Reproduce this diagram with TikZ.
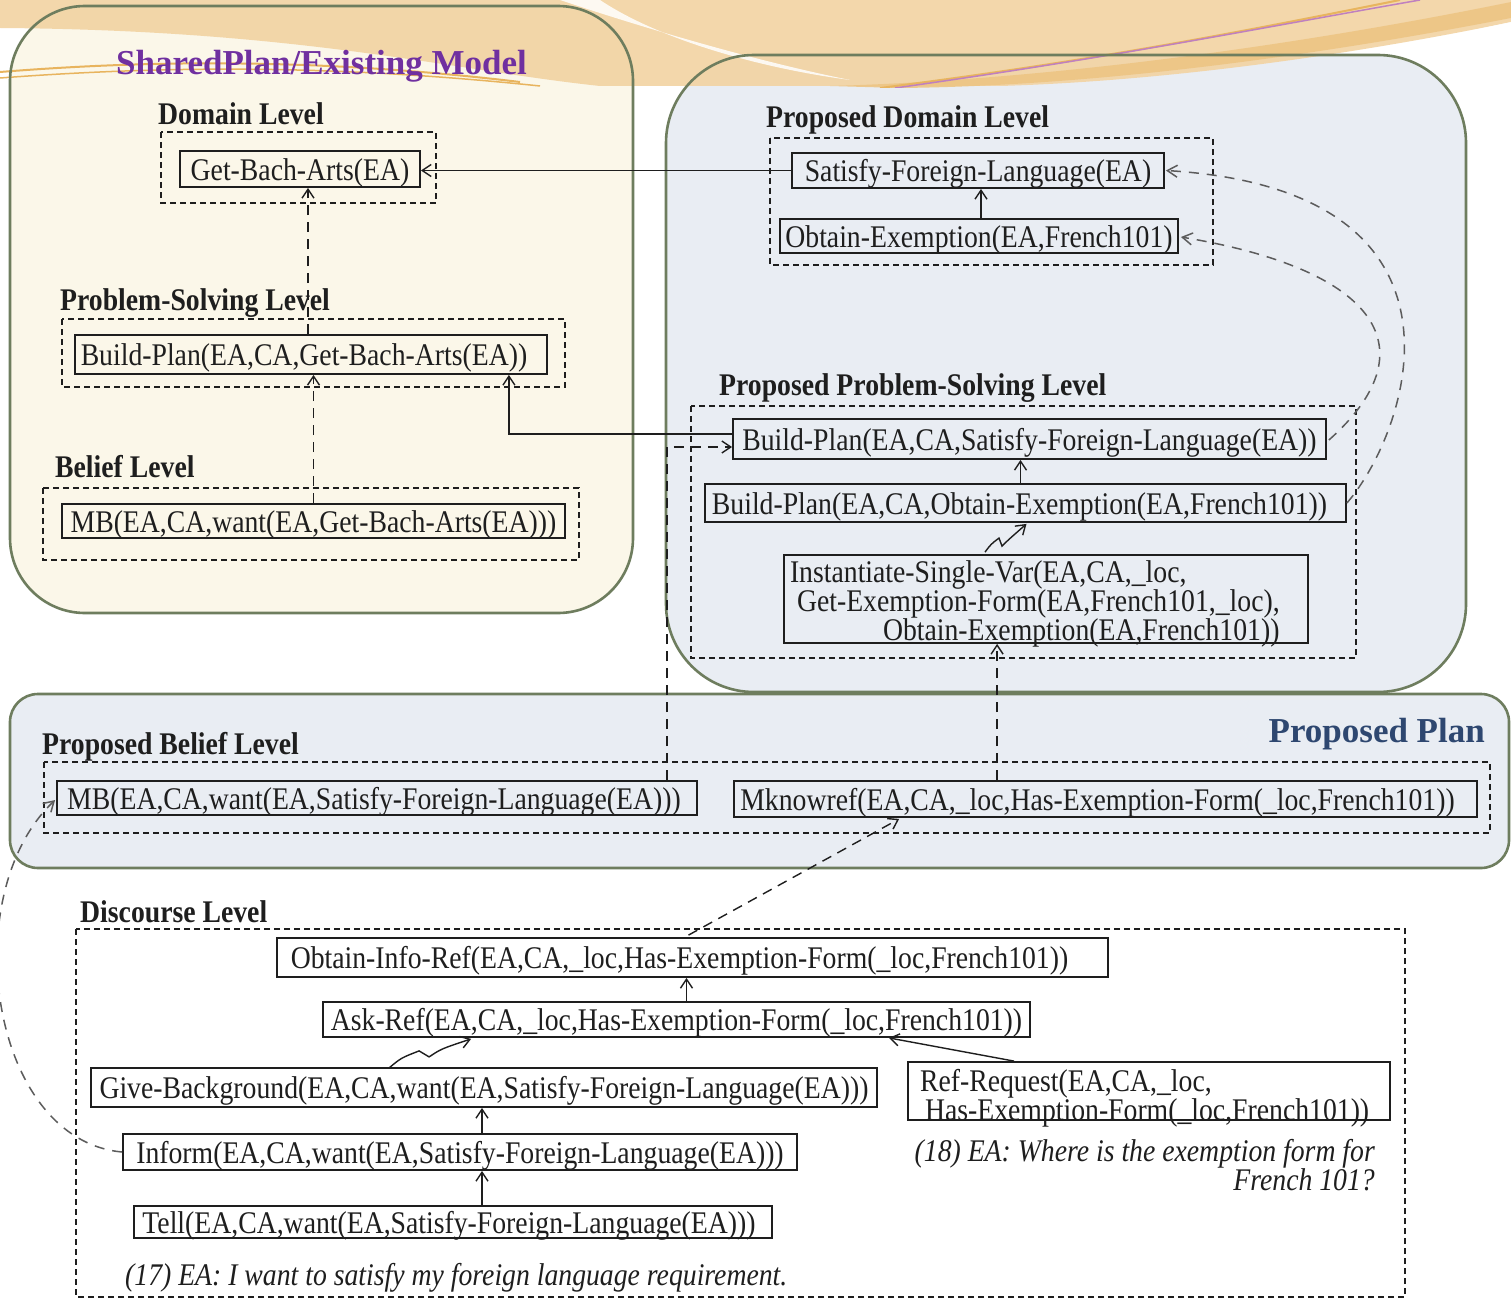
\documentclass[tikz,border=0pt]{standalone}
\usepackage{fontspec}
\setmainfont{Liberation Serif}[FakeStretch=0.88]
\newfontfamily\ttlfam{Liberation Serif}
\usetikzlibrary{arrows.meta,calc}

\definecolor{panelborder}{HTML}{6E7D5E}
\definecolor{creamfill}{HTML}{FBF7E9}
\definecolor{bluefill}{HTML}{E9EDF3}
\definecolor{titlepurple}{HTML}{7030A0}
\definecolor{titleblue}{HTML}{2E4770}
\definecolor{orangeA}{HTML}{F2D3A2}
\definecolor{orangeB}{HTML}{E8B45E}
\definecolor{orangeC}{HTML}{EDC584}
\definecolor{ink}{HTML}{1E1E1E}
\definecolor{curvegray}{HTML}{5C5C5C}

\newcommand\bxfont{\fontsize{31.5pt}{29pt}\selectfont}
\newcommand\ttlfont{\ttlfam\fontsize{35pt}{38pt}\selectfont\bfseries}

\tikzset{
  panel/.style={draw=panelborder, line width=2.6pt},
  bxbase/.style={draw=ink, line width=1.8pt, inner sep=0pt, font=\bxfont, text=ink},
  bx/.style={bxbase, text height=25pt, text depth=3pt},
  lvl/.style={font=\bxfont\bfseries, anchor=west, text=ink, inner sep=0pt},
  grp/.style={draw=ink, line width=1.4pt, dash pattern=on 6pt off 4pt},
  conn/.style={draw=ink, line width=1.4pt, -{Straight Barb[length=9pt,width=12pt]}},
  dconn/.style={conn, dash pattern=on 10pt off 7pt},
  curve/.style={draw=curvegray, line width=1.5pt, dash pattern=on 10pt off 8pt, -{Straight Barb[length=10pt,width=12pt]}},
  note/.style={font=\bxfont\itshape, text=ink, inner sep=0pt}
}

\begin{document}
\begin{tikzpicture}[x=1pt,y=-1pt]
\useasboundingbox (0,0) rectangle (1511,1300);
\fill[white] (0,0) rectangle (1511,1300);

% panel fills
\fill[creamfill] (10,6) [rounded corners=75pt] rectangle (633,613);
\fill[bluefill] (10,694) [rounded corners=28pt] rectangle (1509,868);
\fill[bluefill] (666,55) [rounded corners=88pt] rectangle (1466,692);

% orange decoration
\begin{scope}
\clip (0,0) rectangle (1511,88);
\fill[orangeA, opacity=0.9] (0,0) -- (1511,0) -- (1511,22)
  .. controls (1400,45) and (1200,80) .. (1000,86)
  -- (600,86) .. controls (450,70) and (300,30) .. (0,28) -- cycle;
\fill[white, opacity=0.85] (560,0) .. controls (650,30) and (760,62) .. (850,80)
  .. controls (760,68) and (660,40) .. (600,0) -- cycle;
\fill[orangeC, opacity=0.9] (830,86) .. controls (1050,80) and (1300,45) .. (1511,2)
  -- (1511,18) .. controls (1320,55) and (1100,86) .. (900,88) -- cycle;
\fill[white, opacity=0.7] (1511,22) .. controls (1450,35) and (1420,45) .. (1380,55) -- (1511,55) -- cycle;
\draw[orangeB, line width=2pt] (0,72) .. controls (150,60) and (320,58) .. (520,82);
\draw[orangeB, line width=1.5pt] (0,78) .. controls (160,66) and (330,64) .. (540,86);
\draw[orangeB, line width=2pt] (880,88) .. controls (1100,60) and (1250,30) .. (1400,0);
\draw[violet!50, line width=1.5pt] (895,88) .. controls (1110,58) and (1260,28) .. (1420,0);
\end{scope}

% panel borders
\draw[panel] (10,6) [rounded corners=75pt] rectangle (633,613);
\draw[panel] (10,694) [rounded corners=28pt] rectangle (1509,868);
\draw[panel] (666,55) [rounded corners=88pt] rectangle (1466,692);

% titles
\node[font=\ttlfont, text=titlepurple, anchor=west, inner sep=0pt] (t1) at (116,66) {SharedPlan/Existing Model};
\node[font=\ttlfont, text=titleblue, anchor=east, inner sep=0pt] (t2) at (1485,734) {Proposed Plan};

% level labels
\node[lvl] (l1) at (158,114) {Domain Level};
\node[lvl] (l2) at (60,303) {Problem-Solving Level};
\node[lvl] (l3) at (55,467) {Belief Level};
\node[lvl] (l4) at (766,120) {Proposed Domain Level};
\node[lvl] (l5) at (719,388) {Proposed Problem-Solving Level};
\node[lvl] (l6) at (42,747) {Proposed Belief Level};
\node[lvl] (l7) at (80,912) {Discourse Level};

% group frames
\draw[grp] (161,132) rectangle (436,203);
\draw[grp] (62,319) rectangle (565,387);
\draw[grp] (43,488) rectangle (579,560);
\draw[grp] (770,138) rectangle (1213,265);
\draw[grp] (691,406) rectangle (1356,658);
\draw[grp] (44,762) rectangle (1490,833);
\draw[grp] (76,929) rectangle (1405,1297);

% boxes
\node[bx, minimum width=240pt, minimum height=36pt] (gba) at (300,169) {Get-Bach-Arts(EA)};
\node[bx, minimum width=472pt, minimum height=39pt] (bpg) at (311,354.5) {Build-Plan(EA,CA,Get-Bach-Arts(EA))\hspace*{14pt}};
\node[bx, minimum width=503pt, minimum height=34pt] (mbg) at (313.5,521) {MB(EA,CA,want(EA,Get-Bach-Arts(EA)))};
\node[bx, minimum width=372pt, minimum height=35pt] (sfl) at (978,170.5) {Satisfy-Foreign-Language(EA)};
\node[bx, minimum width=398pt, minimum height=34pt] (obe) at (979,236) {Obtain-Exemption(EA,French101)};
\node[bx, minimum width=593pt, minimum height=40pt] (bps) at (1029.5,439) {Build-Plan(EA,CA,Satisfy-Foreign-Language(EA))};
\node[bx, minimum width=641pt, minimum height=38pt] (bpo) at (1025.5,503) {Build-Plan(EA,CA,Obtain-Exemption(EA,French101))\hspace*{12pt}};
\node[bxbase, text width=512pt, inner xsep=6pt, minimum height=88pt, align=left, text height=26.7pt, text depth=59.9pt] (isv) at (1046,599)
  {Instantiate-Single-Var(EA,CA,\_loc,\\\hspace*{7pt}Get-Exemption-Form(EA,French101,\_loc),\\\hspace*{93pt}Obtain-Exemption(EA,French101))};
\node[bx, minimum width=640pt, minimum height=34pt] (mbs) at (377,798) {MB(EA,CA,want(EA,Satisfy-Foreign-Language(EA)))\hspace*{6pt}};
\node[bx, minimum width=743pt, minimum height=36pt] (mkr) at (1105.5,799) {Mknowref(EA,CA,\_loc,Has-Exemption-Form(\_loc,French101))\hspace*{16pt}};
\node[bx, minimum width=831pt, minimum height=39pt] (oir) at (692.5,957.5) {Obtain-Info-Ref(EA,CA,\_loc,Has-Exemption-Form(\_loc,French101))\hspace*{26pt}};
\node[bx, minimum width=707pt, minimum height=35pt] (ask) at (676.5,1019.5) {Ask-Ref(EA,CA,\_loc,Has-Exemption-Form(\_loc,French101))};
\node[bx, minimum width=786pt, minimum height=39pt] (gbk) at (484,1087.5) {Give-Background(EA,CA,want(EA,Satisfy-Foreign-Language(EA)))};
\node[bxbase, text width=458pt, inner xsep=12pt, minimum height=58pt, align=left, text height=26.7pt, text depth=25.9pt, font=\fontsize{31.5pt}{24pt}\selectfont] (rrq) at (1149,1091)
  {Ref-Request(EA,CA,\_loc,\\\hspace*{5pt}Has-Exemption-Form(\_loc,French101))};
\node[bx, minimum width=674pt, minimum height=36pt] (inf) at (460,1152) {Inform(EA,CA,want(EA,Satisfy-Foreign-Language(EA)))};
\node[bx, minimum width=638pt, minimum height=32pt] (tel) at (453,1222) {Tell(EA,CA,want(EA,Satisfy-Foreign-Language(EA)))\hspace*{8pt}};

% notes
\node[note, anchor=west] (n17) at (125,1278) {(17) EA: I want to satisfy my foreign language requirement.};
\node[note, anchor=east, align=right] (n18) at (1375,1165) {(18) EA: Where is the exemption form for\\French 101?};

% connectors
\draw[conn] (sfl.west) -- (gba.east |- sfl.west);
\draw[conn] ($(obe.north)+(2,0)$) -- ($(obe.north |- sfl.south)+(2,0)$);
\draw[dconn] (mbg.north) -- (mbg.north |- bpg.south);
\draw[dconn] ($(bpg.north)+(-3,0)$) -- ($(bpg.north |- gba.south)+(-3,0)$);
\draw[conn] ($(bps.west)+(0,-5)$) -| ($(bpg.south east)+(-39,0)$);
\draw[conn] ($(bpo.north)+(-5,0)$) -- ($(bpo.north |- bps.south)+(-5,0)$);
\draw[conn] ($(isv.north)+(-61,-2)$) .. controls +(6,-8) .. ++(14,-14) -- ++(3,8) .. controls +(6,-6) .. ($(bpo.south)+(1,1)$);
\draw[dconn] ($(mbs.north east)+(-31,0)$) |- ($(bps.west)+(0,8)$);
\draw[dconn] ($(mkr.north west)+(264,0)$) -- ($(isv.south west)+(214,0)$);
\draw[conn] ($(ask.north)+(10,0)$) -- ($(ask.north |- oir.south)+(10,0)$);
\draw[conn] ($(gbk.south west)+(299,-40)$) .. controls +(12,-10) .. ++(30,-17) -- ++(10,6) .. controls +(12,-8) .. ($(ask.south west)+(149,1)$);
\draw[conn] ($(rrq.north west)+(107,0)$) -- ($(ask.south east)+(-142,0)$);
\draw[conn] ($(inf.north)+(22,0)$) -- ($(inf.north |- gbk.south)+(22,0)$);
\draw[conn] ($(tel.north)+(29,0)$) -- ($(tel.north |- inf.south)+(29,0)$);
\draw[dconn] ($(oir.north)+(-4,-2)$) -- ($(mkr.south west)+(166,1)$);

% long dashed curves
\draw[curve] (bpo.east) .. controls (1410,430) and (1490,190) .. ($(sfl.east)+(1,0)$);
\draw[curve] ($(bps.east)+(2,1)$) .. controls (1430,350) and (1380,270) .. ($(obe.east)+(2,1)$);
\draw[curve] (inf.west) .. controls (-10,1140) and (-45,895) .. ($(mbs.west)+(-1,2)$);
\end{tikzpicture}
\end{document}
